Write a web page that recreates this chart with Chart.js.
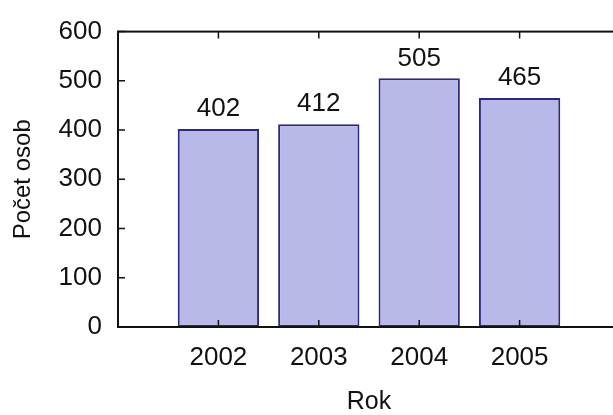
<!DOCTYPE html>
<html>
<head>
<meta charset="utf-8">
<script src="https://cdn.jsdelivr.net/npm/chart.js@4"></script>
<style>
  body { margin: 0; background: #fff; overflow: hidden; }
  #wrap { width: 613px; height: 415px; overflow: hidden; }
</style>
</head>
<body>
<div id="wrap"><canvas id="myChart" width="640" height="415"></canvas></div>
<script>
// data
const years = [2002, 2003, 2004, 2005];
const persons = [402, 412, 505, 465];
const yTicks = [0, 100, 200, 300, 400, 500, 600];

const FONT = "'Liberation Sans', Arial, sans-serif";

// frame, inward ticks and value labels, like the gnuplot original
const framePlugin = {
  id: "frame",
  afterDatasetsDraw: function(chart) {
    const ctx = chart.ctx;
    const a = chart.chartArea;
    const xs = chart.scales.x;
    const ys = chart.scales.y;
    ctx.save();
    ctx.strokeStyle = "#111";
    ctx.lineWidth = 2;
    ctx.strokeRect(a.left, a.top, a.right - a.left, a.bottom - a.top);

    ctx.lineWidth = 1.5;
    ctx.beginPath();
    yTicks.forEach(function(v) {
      const py = ys.getPixelForValue(v);
      ctx.moveTo(a.left, py); ctx.lineTo(a.left + 7, py);
      ctx.moveTo(a.right, py); ctx.lineTo(a.right - 7, py);
    });
    years.forEach(function(v) {
      const px = xs.getPixelForValue(v);
      ctx.moveTo(px, a.bottom); ctx.lineTo(px, a.bottom - 7);
      ctx.moveTo(px, a.top); ctx.lineTo(px, a.top + 7);
    });
    ctx.stroke();

    // values above the bars
    ctx.fillStyle = "#111";
    ctx.font = "26px " + FONT;
    ctx.textAlign = "center";
    ctx.textBaseline = "middle";
    chart.getDatasetMeta(0).data.forEach(function(bar, i) {
      ctx.fillText(String(persons[i]), bar.x, bar.y - 20);
    });
    ctx.restore();
  }
};

const ctx = document.getElementById("myChart").getContext("2d");
new Chart(ctx, {
  type: "bar",
  data: {
    datasets: [{
      data: years.map(function(y, i) { return { x: y, y: persons[i] }; }),
      backgroundColor: "#b9b9e9",
      borderColor: "#2a2a7c",
      borderWidth: 2,
      borderSkipped: false,
      barPercentage: 1,
      categoryPercentage: 0.81
    }]
  },
  options: {
    responsive: false,
    animation: false,
    devicePixelRatio: 1,
    layout: { padding: { top: 27, right: 20, left: 0, bottom: 0 } },
    plugins: { legend: { display: false }, tooltip: { enabled: false } },
    scales: {
      x: {
        type: "linear",
        offset: false,
        min: 2001,
        max: 2006,
        afterBuildTicks: function(scale) {
          scale.ticks = years.map(function(v) { return { value: v }; });
        },
        afterFit: function(scale) { scale.height = 88; },
        grid: { display: false, drawTicks: false, offset: false },
        border: { display: false },
        ticks: {
          padding: 15,
          color: "#111",
          font: { family: FONT, size: 26 },
          callback: function(v) { return String(v); }
        },
        title: {
          display: true,
          text: "Rok",
          color: "#111",
          font: { family: FONT, size: 25, lineHeight: 1 },
          padding: { top: 0, bottom: 0 }
        }
      },
      y: {
        min: 0,
        max: 600,
        afterBuildTicks: function(scale) {
          scale.ticks = yTicks.map(function(v) { return { value: v }; });
        },
        afterFit: function(scale) { scale.width = 118; },
        grid: { display: false, drawTicks: false },
        border: { display: false },
        ticks: {
          padding: 16,
          color: "#111",
          font: { family: FONT, size: 26 }
        },
        title: {
          display: true,
          text: "Počet osob",
          color: "#111",
          font: { family: FONT, size: 24, lineHeight: 1 },
          padding: { top: 11, bottom: 0 }
        }
      }
    }
  },
  plugins: [framePlugin]
});
</script>
</body>
</html>
